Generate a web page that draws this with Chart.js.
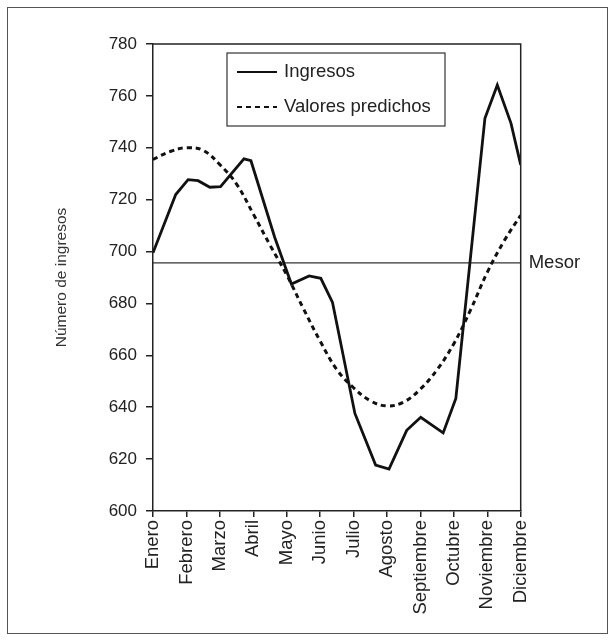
<!DOCTYPE html>
<html>
<head>
<meta charset="utf-8">
<script src="https://cdn.jsdelivr.net/npm/chart.js@4.4.1/dist/chart.umd.min.js"></script>
<style>
  body { margin: 0; background: #fff; }
  canvas { display: block; }
</style>
</head>
<body>
<canvas id="cosinorChart" width="616" height="642"></canvas>
<script>
// ========== Data ==========
const meses = ['Enero', 'Febrero', 'Marzo', 'Abril', 'Mayo', 'Junio', 'Julio', 'Agosto', 'Septiembre', 'Octubre', 'Noviembre', 'Diciembre'];

// observed series (x = month position, 0 = Enero)
const ingresosX = [0, 0.68, 1.05, 1.35, 1.7, 2.02, 2.72, 2.93, 3.64, 4.14, 4.67, 5.02, 5.37, 6.04, 6.66, 7.06, 7.59, 8.01, 8.68, 9.06, 9.93, 10.3, 10.71, 11];
const ingresosY = [699.5, 722, 727.7, 727.3, 724.8, 725, 735.7, 735, 705.5, 687.5, 690.6, 689.7, 680.4, 637.6, 617.7, 616.2, 631.1, 636.1, 630.1, 643.4, 751.4, 764.2, 749.4, 733.4];

// fitted curve
const predichosX = [0, 0.5, 1, 1.5, 2, 2.5, 3, 3.5, 4, 4.5, 5, 5.5, 6, 6.5, 7, 7.5, 8, 8.5, 9, 9.5, 10, 10.5, 11];
const predichosY = [735.5, 738.5, 740, 739, 733.5, 726, 714.5, 702.5, 691, 678, 665.5, 654.5, 647.5, 642.5, 640.5, 642, 647, 654.5, 664.5, 677.5, 692, 704, 714];

const mesor = 695.6;

const toPoints = (xs, ys) => xs.map((x, i) => ({ x, y: ys[i] }));

// ========== Plugins ==========
const TXT = '#222';
const FONT = "'Liberation Sans', Arial, sans-serif";

const decorPlugin = {
  id: 'decor',
  afterDraw(chart) {
    const { ctx, chartArea: a } = chart;
    ctx.save();
    // outer frame
    ctx.strokeStyle = '#555';
    ctx.lineWidth = 1;
    ctx.strokeRect(7.5, 7.5, 600, 626);
    // plot frame (top + right)
    ctx.strokeStyle = '#222';
    ctx.lineWidth = 1.5;
    ctx.beginPath();
    ctx.moveTo(a.left, a.top);
    ctx.lineTo(a.right, a.top);
    ctx.lineTo(a.right, a.bottom);
    ctx.stroke();

    // legend box
    ctx.fillStyle = '#fff';
    ctx.fillRect(227, 53, 218, 73);
    ctx.strokeStyle = '#333';
    ctx.lineWidth = 1.2;
    ctx.strokeRect(227, 53, 218, 73);
    const items = [
      { label: 'Ingresos', dash: [], y: 72 },
      { label: 'Valores predichos', dash: [5, 4], y: 107 },
    ];
    items.forEach(it => {
      ctx.strokeStyle = '#111';
      ctx.lineWidth = 2;
      ctx.setLineDash(it.dash);
      ctx.beginPath();
      ctx.moveTo(237, it.y);
      ctx.lineTo(277, it.y);
      ctx.stroke();
      ctx.setLineDash([]);
      ctx.fillStyle = TXT;
      ctx.font = '18.5px ' + FONT;
      ctx.textBaseline = 'middle';
      ctx.textAlign = 'left';
      ctx.fillText(it.label, 284, it.y);
    });

    // mesor label
    const yM = chart.scales.y.getPixelForValue(mesor);
    ctx.fillStyle = TXT;
    ctx.font = '18.5px ' + FONT;
    ctx.textBaseline = 'middle';
    ctx.fillText('Mesor', a.right + 8, yM);
    ctx.restore();
  }
};

// ========== Chart ==========
const ctx = document.getElementById('cosinorChart');
new Chart(ctx, {
  type: 'line',
  data: {
    datasets: [
      { label: 'Ingresos', data: toPoints(ingresosX, ingresosY), borderColor: '#111', borderWidth: 2.8, pointRadius: 0, tension: 0, fill: false },
      { label: 'Valores predichos', data: toPoints(predichosX, predichosY), borderColor: '#111', borderWidth: 3, borderDash: [5, 4], pointRadius: 0, tension: 0.4, fill: false },
      { label: 'Mesor', data: [{ x: 0, y: mesor }, { x: 11, y: mesor }], borderColor: '#333', borderWidth: 1.2, pointRadius: 0, fill: false },
    ]
  },
  options: {
    responsive: false,
    devicePixelRatio: 1,
    animation: false,
    layout: { padding: { left: 52.7, right: 95.3, top: 44, bottom: 0 } },
    plugins: {
      legend: { display: false },
      tooltip: { enabled: false }
    },
    scales: {
      x: {
        type: 'linear', min: 0, max: 11,
        afterFit: s => { s.height = 131; },
        grid: { drawOnChartArea: false, drawTicks: true, tickLength: 6, color: '#222', lineWidth: 1.5 },
        border: { display: true, color: '#222', width: 1.5 },
        ticks: {
          stepSize: 1, autoSkip: false, maxTicksLimit: 20, maxRotation: 90, minRotation: 90,
          padding: 3, color: TXT, font: { size: 18.5, family: FONT },
          callback: v => meses[v]
        }
      },
      y: {
        min: 600, max: 780,
        afterFit: s => { s.width = 100.3; },
        grid: { drawOnChartArea: false, drawTicks: true, tickLength: 7, color: '#222', lineWidth: 1.5 },
        border: { display: true, color: '#222', width: 1.5 },
        ticks: { stepSize: 20, padding: 9, color: TXT, font: { size: 17, family: FONT } },
        title: { display: true, text: 'Número de ingresos', color: '#333', padding: 0, font: { size: 15.5, family: FONT } }
      }
    }
  },
  plugins: [decorPlugin]
});
</script>
</body>
</html>
